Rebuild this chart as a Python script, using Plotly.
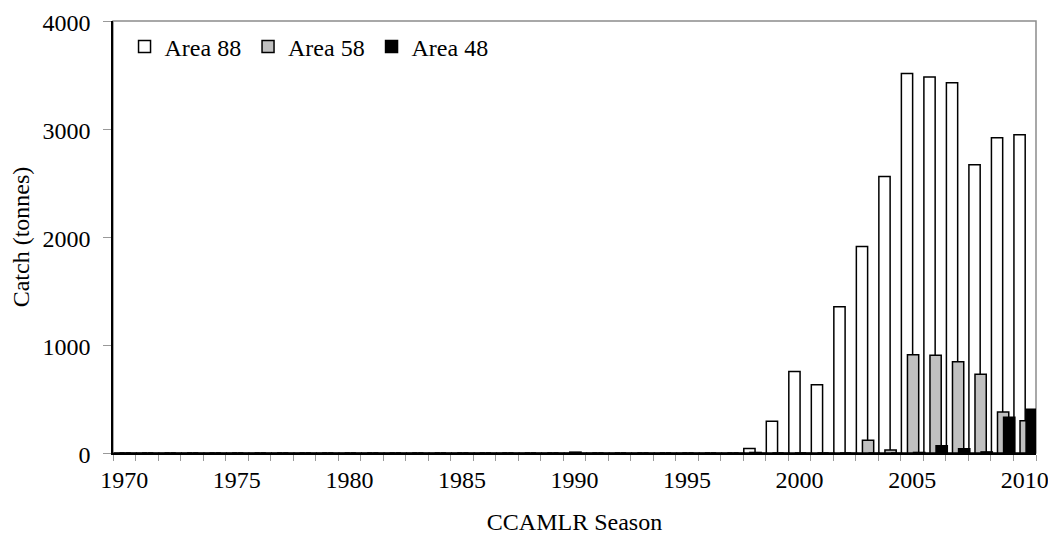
import plotly.graph_objects as go

years = list(range(1970, 2011))
# values for 1970..2010
area88 = [0]*28 + [41, 294, 755, 633, 1355, 1912, 2561, 3514, 3481, 3429, 2669, 2918, 2946]
area58 = [0]*20 + [8] + [0]*7 + [5, 0, 0, 0, 0, 118, 28, 910, 905, 845, 729, 379, 299]
area48 = [0]*35 + [5, 68, 40, 10, 330, 405]

series_names = ["Area 88", "Area 58", "Area 48"]
series_values = [area88, area58, area48]
series_colors = ["#ffffff", "#c0c0c0", "#000000"]
offsets = [-0.48, -0.21, 0.06]

FONT = "Liberation Serif, Times New Roman, serif"

fig = go.Figure()
for name, vals, col, off in zip(series_names, series_values, series_colors, offsets):
    fig.add_trace(go.Bar(
        x=years, y=vals, name=name,
        width=0.5, offset=off,
        marker=dict(color=col, line=dict(color="#000000", width=1.5)),
    ))

# page body has an 8px margin, so the figure is shrunk by 8px and margins shifted
fig.update_layout(
    barmode="overlay",
    width=1048, height=530,
    margin=dict(l=105, r=20, t=13, b=85, autoexpand=False),
    paper_bgcolor="white", plot_bgcolor="white",
    font=dict(family=FONT, size=24, color="black"),
    showlegend=True,
    legend=dict(orientation="h", x=0.0125, y=0.992, xanchor="left", yanchor="top",
                font=dict(family=FONT, size=24), bgcolor="rgba(0,0,0,0)",
                itemwidth=30, entrywidth=78.5, entrywidthmode="pixels",
                traceorder="normal"),
    shapes=[dict(type="rect", xref="paper", yref="paper", x0=0, x1=1, y0=0, y1=1,
                 line=dict(color="#8c8c8c", width=1.5), layer="below")],
)

fig.update_xaxes(
    automargin=False,
    range=[1969.5, 2010.5],
    tickmode="array", tickvals=list(range(1970, 2011, 5)),
    ticktext=[str(v) for v in range(1970, 2011, 5)],
    ticks="outside", ticklen=4, tickcolor="rgba(0,0,0,0)",
    ticklabeloverflow="allow",
    tickfont=dict(family=FONT, size=24),
    minor=dict(tick0=1969.5, dtick=1, ticks="outside", ticklen=6, tickcolor="#999999", tickwidth=1),
    showline=True, linecolor="black", linewidth=1.5,
    showgrid=False, zeroline=False,
    title=dict(text="CCAMLR Season", font=dict(family=FONT, size=24), standoff=22),
)
fig.update_yaxes(
    automargin=False,
    range=[0, 4000], tickmode="array", tickvals=[0, 1000, 2000, 3000, 4000],
    ticks="outside", ticklen=8, tickcolor="#999999",
    ticklabelstandoff=8, ticklabelshift=2, ticklabeloverflow="allow",
    tickfont=dict(family=FONT, size=24),
    showline=True, linecolor="black", linewidth=1.5,
    showgrid=False, zeroline=False,
    title=dict(text="Catch (tonnes)", font=dict(family=FONT, size=24), standoff=7),
)

fig.write_html("out.html")
